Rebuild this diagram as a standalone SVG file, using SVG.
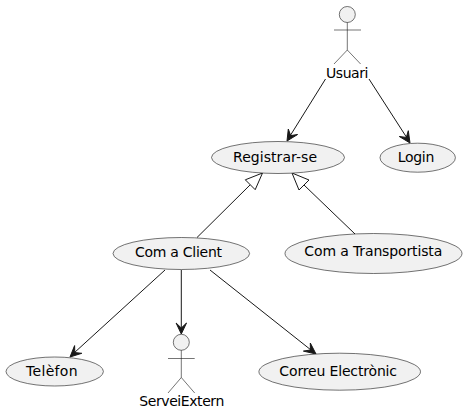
<svg xmlns="http://www.w3.org/2000/svg" width="467" height="414" viewBox="0 0 467 414">
<style>
text{font-family:"DejaVu Sans",sans-serif;font-size:14px;fill:#000;text-anchor:middle}
.n{fill:#F1F1F1;stroke:#181818;stroke-width:.6}
.a{fill:none;stroke:#181818;stroke-width:.6}
.c{fill:none;stroke:#181818;stroke-width:1}
.h{fill:#181818;stroke:#181818;stroke-width:1}
.g{fill:#fff;stroke:#181818;stroke-width:1}
</style>
<rect width="467" height="414" fill="#fff"/>
<g id="connectors">
<path class="c" d="M325.5 79L290 136"/>
<path class="h" d="M287 141L297.6 134.5L290.7 135.6L288.3 129Z"/>
<path class="c" d="M369 79L407 138"/>
<path class="h" d="M410 143L408.3 130.7L406.3 137.4L399.3 136.5Z"/>
<path class="c" d="M197 237.5L251 184"/>
<path class="g" d="M262.5 173L245.3 179.8L255.2 189.7Z"/>
<path class="c" d="M355 234L304 185"/>
<path class="g" d="M292 173L299 190L309 180Z"/>
<path class="c" d="M165 270L74 353"/>
<path class="h" d="M70 357L81.8 353.3L74.8 352.6L74.6 345.6Z"/>
<path class="c" d="M181.3 270V328"/>
<path class="h" d="M181.3 334L186.5 323L181.3 328L176.1 323Z"/>
<path class="c" d="M210 270L311 350"/>
<path class="h" d="M316 354L310.3 343L310.4 350L303.4 351.1Z"/>
</g>
<g id="Usuari">
<circle class="n" cx="347.3" cy="14.5" r="8"/>
<path class="a" d="M347.3 22.500V50M334 30H361M347.300 50L334 64M347.300 50L360.600 64"/>
<text x="347.200" y="78" textLength="42.500">Usuari</text>
</g>
<g id="Registrar">
<ellipse class="n" cx="278" cy="157.500" rx="66.500" ry="16"/>
<text x="275" y="161.500" textLength="84">Registrar-se</text>
</g>
<g id="Login">
<ellipse class="n" cx="417.700" cy="157.700" rx="37.700" ry="14.500"/>
<text x="416" y="161.500" textLength="36.500">Login</text>
</g>
<g id="Client">
<ellipse class="n" cx="181.300" cy="253.500" rx="68.300" ry="16"/>
<text x="178.500" y="257" textLength="87">Com a Client</text>
</g>
<g id="Transportista">
<ellipse class="n" cx="373.500" cy="253.500" rx="88.500" ry="20"/>
<text x="373.300" y="256" textLength="138">Com a Transportista</text>
</g>
<g id="Telefon">
<ellipse class="n" cx="54.700" cy="371.500" rx="48.700" ry="14.500"/>
<text x="51.800" y="376" textLength="51.700">Telèfon</text>
</g>
<g id="ServeiExtern">
<circle class="n" cx="181.300" cy="342.300" r="8"/>
<path class="a" d="M181.300 350.300V377.500M168 358.500H194.700M181.300 377.500L168 393M181.300 377.500L194.700 393"/>
<text x="181.800" y="406" textLength="85">ServeiExtern</text>
</g>
<g id="Correu">
<ellipse class="n" cx="339.700" cy="371.700" rx="80.800" ry="18.500"/>
<text x="338.200" y="375.500" textLength="117.700">Correu Electrònic</text>
</g>
</svg>
